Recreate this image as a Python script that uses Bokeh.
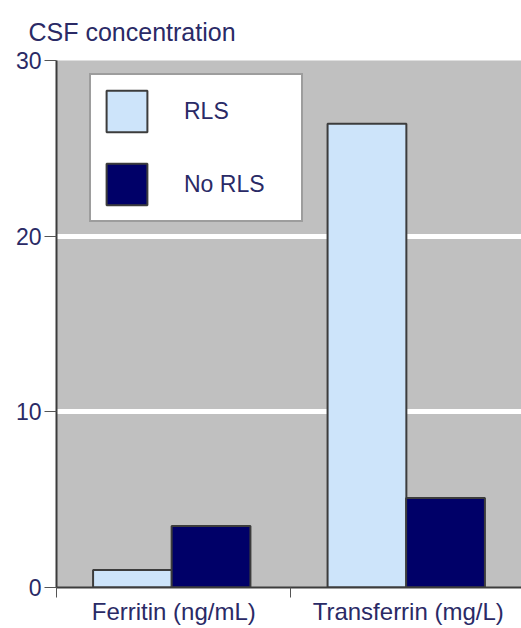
from bokeh.plotting import figure
from bokeh.models import Range1d, FixedTicker, Legend, LegendItem, ColumnDataSource
from bokeh.transform import dodge
from bokeh.embed import file_html
from bokeh.resources import INLINE

categories = ["Ferritin (ng/mL)", "Transferrin (mg/L)"]
series_names = ["RLS", "No RLS"]
rls_values = [1.0, 26.4]
no_rls_values = [3.5, 5.1]
y_ticks = [0, 10, 20, 30]
title_text = "CSF concentration"

FONT = "Liberation Sans"
TEXT = "#2a2a66"
EDGE = "#3c3c3c"

positions = [i + 0.5 for i in range(len(categories))]
boundaries = [float(i) for i in range(len(categories) + 1)]
source = ColumnDataSource(dict(x=positions, rls=rls_values, no_rls=no_rls_values))

p = figure(width=521, height=628,
           x_range=Range1d(0, 1.983), y_range=Range1d(0, 30),
           output_backend="svg", toolbar_location=None,
           min_border_left=56, min_border_right=0,
           min_border_top=60, min_border_bottom=41,
           background_fill_color="#c0c0c0", border_fill_color="white",
           title=title_text)
p.outline_line_color = None

p.title.text_font = FONT
p.title.text_font_size = "25px"
p.title.text_font_style = "normal"
p.title.text_color = TEXT
p.title.align = "left"
p.title.offset = -28
p.title.standoff = 30

r1 = p.vbar(x=dodge("x", -0.176), top="rls", width=0.336, bottom=0, source=source,
            fill_color="#cde4fa", line_color=EDGE, line_width=2)
r2 = p.vbar(x=dodge("x", 0.159), top="no_rls", width=0.336, bottom=0, source=source,
            fill_color="#000068", line_color=EDGE, line_width=2)

p.xgrid.grid_line_color = None
p.ygrid.ticker = FixedTicker(ticks=y_ticks)
p.ygrid.grid_line_color = "white"
p.ygrid.grid_line_width = 5

ya = p.yaxis[0]
ya.ticker = FixedTicker(ticks=y_ticks)
ya.major_tick_out = 12
ya.major_tick_in = 0
ya.major_tick_line_color = "#555555"
ya.minor_tick_line_color = None
ya.axis_line_color = EDGE
ya.axis_line_width = 2
ya.major_label_standoff = 3
ya.major_label_text_font = FONT
ya.major_label_text_font_size = "23px"
ya.major_label_text_color = TEXT

xa = p.xaxis[0]
xa.ticker = FixedTicker(ticks=positions, minor_ticks=boundaries)
xa.major_label_overrides = {pos: cat for pos, cat in zip(positions, categories)}
xa.major_tick_out = 0
xa.major_tick_in = 0
xa.major_tick_line_color = None
xa.minor_tick_out = 10
xa.minor_tick_in = 0
xa.minor_tick_line_color = "#555555"
xa.axis_line_color = EDGE
xa.axis_line_width = 2
xa.major_label_standoff = 0
xa.major_label_text_font = FONT
xa.major_label_text_font_size = "24px"
xa.major_label_text_color = TEXT

legend = Legend(items=[LegendItem(label=series_names[0], renderers=[r1]),
                       LegendItem(label=series_names[1], renderers=[r2])],
                location=(33, 365), padding=10, spacing=21, margin=0,
                glyph_width=51, glyph_height=52, label_standoff=32, label_width=107,
                border_line_color=EDGE, border_line_width=2,
                background_fill_color="white", background_fill_alpha=1,
                label_text_font=FONT, label_text_font_size="23px",
                label_text_color=TEXT)
p.add_layout(legend)

open("out.html", "w").write(file_html(p, INLINE))
